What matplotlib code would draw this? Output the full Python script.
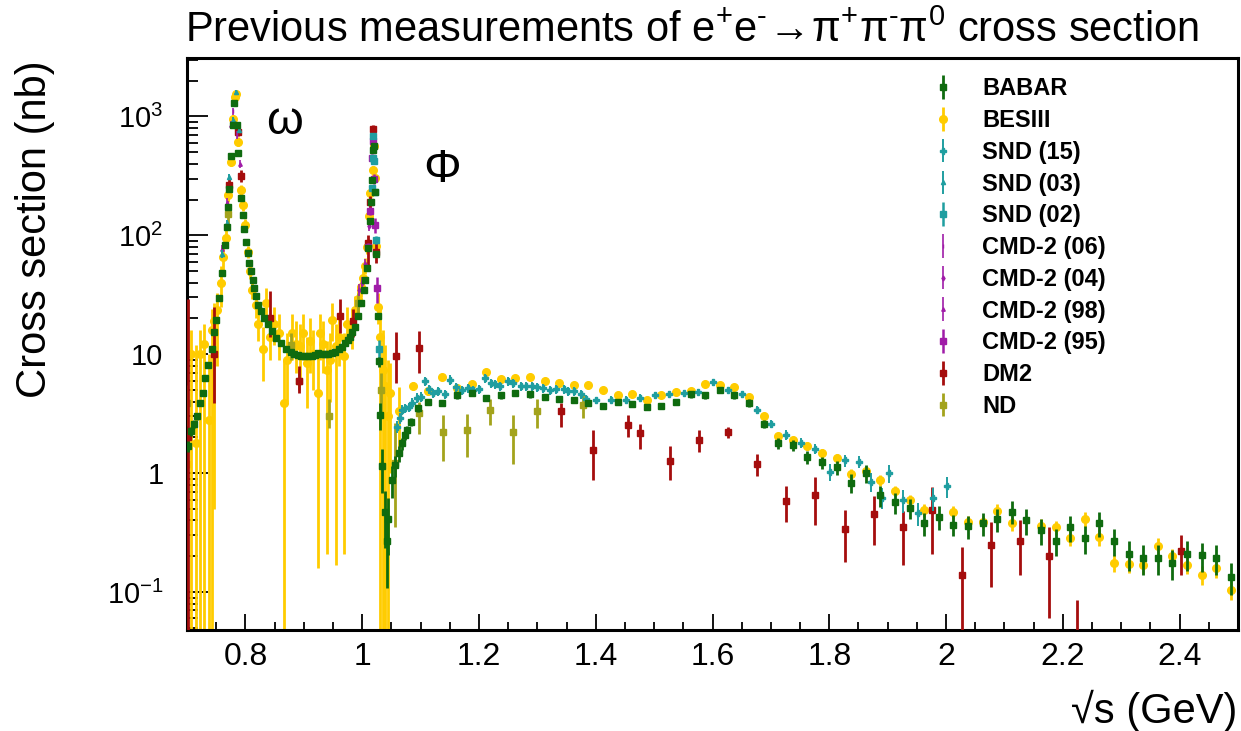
import numpy as np
import matplotlib
matplotlib.use('Agg')
import matplotlib.pyplot as plt
from matplotlib.ticker import FixedLocator, LogLocator, NullFormatter, MultipleLocator

plt.rcParams['font.family'] = ['Liberation Sans', 'DejaVu Sans']
plt.rcParams['mathtext.fontset'] = 'custom'
plt.rcParams['mathtext.rm'] = 'Liberation Sans'
plt.rcParams['mathtext.it'] = 'Liberation Sans:italic'
plt.rcParams['mathtext.bf'] = 'Liberation Sans:bold'

# ---------------- data ----------------
# BABAR, omega / phi region
babar_x1 = [0.7017, 0.7070, 0.7120, 0.7167, 0.7223, 0.7270, 0.7315, 0.7360, 0.7424, 0.7464,
            0.7500, 0.7555, 0.7607, 0.7650, 0.7690, 0.7705, 0.7720, 0.7750, 0.7780, 0.7810,
            0.7850, 0.7880, 0.7920, 0.7960, 0.7980, 0.8008, 0.8036, 0.8065, 0.8094, 0.8122,
            0.8150, 0.8185, 0.8220, 0.8266, 0.8320, 0.8380, 0.8450, 0.8520, 0.8610, 0.8695,
            0.8780, 0.8835, 0.8895, 0.8955, 0.9020, 0.9080, 0.9136, 0.9190, 0.9250, 0.9310,
            0.9366, 0.9420, 0.9480, 0.9540, 0.9595, 0.9650, 0.9710, 0.9755, 0.9795, 0.9830,
            0.9870, 0.9926, 0.9985, 1.0024, 1.0050, 1.0080, 1.0098, 1.0127, 1.0150, 1.0167,
            1.0180, 1.0195, 1.0212, 1.0236, 1.0264, 1.0280, 1.0310, 1.0340, 1.0385, 1.0425,
            1.0450, 1.0510, 1.0568, 1.0625, 1.0680, 1.0730, 1.0768, 1.0840, 1.0960]
babar_y1 = [1.68, 2.25, 2.6, 3.0, 3.9, 4.7, 6.3, 8.1, 11, 15.5,
            19.5, 29.5, 48, 83, 118, 172, 245, 465, 850, 1290,
            850, 490, 205, 147, 112, 88, 71, 59, 50, 42.5,
            36, 31, 26, 23, 20, 18, 15.6, 13.8, 12.4, 11,
            10.4, 10.0, 9.8, 9.6, 9.6, 9.6, 9.7, 9.9, 10.2, 10.1,
            10.0, 10.1, 10.2, 10.5, 11, 11.6, 12.4, 13.2, 14, 15.3,
            17, 21, 27, 35, 42, 53, 78, 131, 192, 293,
            520, 560, 230, 69, 21, 8.7, 3.1, 1.14, 0.47, 0.27,
            0.41, 0.88, 1.17, 1.47, 1.78, 2.1, 2.3, 2.7, 3.5]
babar_r1 = [0.10, 0.08, 0.08, 0.07, 0.06, 0.06, 0.05, 0.05, 0.05, 0.05,
            0.05, 0.04, 0.04, 0.04, 0.04, 0.04, 0.04, 0.04, 0.04, 0.04,
            0.04, 0.04, 0.04, 0.04, 0.04, 0.04, 0.04, 0.04, 0.04, 0.04,
            0.04, 0.04, 0.04, 0.04, 0.04, 0.04, 0.04, 0.04, 0.04, 0.04,
            0.04, 0.04, 0.04, 0.04, 0.04, 0.04, 0.04, 0.04, 0.04, 0.04,
            0.04, 0.04, 0.04, 0.04, 0.04, 0.04, 0.04, 0.04, 0.04, 0.04,
            0.04, 0.04, 0.04, 0.04, 0.04, 0.04, 0.04, 0.04, 0.04, 0.04,
            0.04, 0.04, 0.05, 0.05, 0.06, 0.10, 0.25, 0.40, 0.50, 0.60,
            0.50, 0.30, 0.20, 0.15, 0.12, 0.10, 0.08, 0.07, 0.06]

# BABAR, above the phi
babar_x2 = [1.1125, 1.1375, 1.1625, 1.1875, 1.2125, 1.2375, 1.2625, 1.2875, 1.3125, 1.3375,
            1.3625, 1.3875, 1.4125, 1.4375, 1.4625, 1.4875, 1.5125, 1.5375, 1.5625, 1.5875,
            1.6125, 1.6375, 1.6625, 1.6875, 1.7125, 1.7375, 1.7625, 1.7875, 1.8125, 1.8375,
            1.8625, 1.8875, 1.9125, 1.9375, 1.9625, 1.9875, 2.0125, 2.0375, 2.0625, 2.0875,
            2.1125, 2.1375, 2.1625, 2.1875, 2.2125, 2.2375, 2.2625, 2.2875, 2.3125, 2.3375,
            2.3625, 2.3875, 2.4125, 2.4375, 2.4625, 2.4875]
babar_y2 = [4.0, 3.9, 4.5, 4.7, 4.3, 4.5, 4.7, 4.6, 4.4, 4.2,
            4.1, 3.9, 3.7, 4.0, 3.8, 3.6, 3.7, 4.0, 4.6, 4.5,
            5.0, 4.5, 3.9, 2.6, 1.78, 1.72, 1.36, 1.23, 1.12, 0.83,
            1.0, 0.65, 0.57, 0.51, 0.38, 0.43, 0.37, 0.36, 0.38, 0.41,
            0.475, 0.40, 0.33, 0.27, 0.35, 0.285, 0.38, 0.27, 0.21, 0.195,
            0.195, 0.176, 0.21, 0.204, 0.195, 0.134]
babar_r2 = [0.06, 0.06, 0.06, 0.06, 0.06, 0.06, 0.06, 0.06, 0.06, 0.06,
            0.06, 0.06, 0.06, 0.06, 0.06, 0.06, 0.06, 0.06, 0.06, 0.06,
            0.06, 0.06, 0.07, 0.08, 0.10, 0.10, 0.12, 0.12, 0.14, 0.18,
            0.18, 0.20, 0.20, 0.20, 0.22, 0.22, 0.20, 0.22, 0.22, 0.22,
            0.22, 0.24, 0.24, 0.26, 0.24, 0.26, 0.24, 0.26, 0.28, 0.28,
            0.28, 0.28, 0.28, 0.28, 0.28, 0.30]

# BESIII, omega / phi region (value, lower and upper end of the bar)
bes_x1 = [0.7005, 0.7070, 0.7150, 0.7220, 0.7290, 0.7380, 0.7420, 0.7460, 0.7520, 0.7580,
          0.7620, 0.7665, 0.7705, 0.7750, 0.7790, 0.7815, 0.7838, 0.7870, 0.7930, 0.7960,
          0.8000, 0.8050, 0.8080, 0.8120, 0.8180, 0.8210, 0.8295, 0.8350, 0.8426, 0.8490,
          0.8580, 0.8667, 0.8720, 0.8790, 0.8867, 0.8937, 0.8993, 0.9050, 0.9110, 0.9165,
          0.9236, 0.9280, 0.9337, 0.9395, 0.9450, 0.9490, 0.9550, 0.9606, 0.9680, 0.9737,
          0.9820, 0.9880, 0.9925, 0.9985, 1.0020, 1.0050, 1.0080, 1.0110, 1.0140, 1.0180,
          1.0196, 1.0225, 1.0235, 1.0270, 1.0300, 1.0350, 1.0397, 1.0440, 1.0483, 1.0625]
bes_y1 = [1.2, 10, 1.8, 10, 12.3, 2.8, 16, 19, 23.5, 40,
          66, 95, 218, 416, 950, 1450, 1550, 615, 240, 180,
          123, 73, 50, 35, 26, 18, 11, 27, 14, 18,
          15, 3.9, 9, 15, 12.3, 11.7, 15, 8.5, 13, 10,
          4.7, 15, 12.3, 7.4, 9, 19.5, 11.7, 14, 9.6, 18,
          17, 23.5, 29, 37, 44, 55, 80, 144, 225, 355,
          560, 302, 81, 25, 14, 7.4, 5.4, 3.0, 4.7, 3.3]
bes_lo1 = [0.001, 0.001, 0.001, 0.001, 0.001, 0.001, 0.001, 0.5, 8, 25,
           50, 80, 190, 380, 870, 1350, 1450, 560, 215, 160,
           110, 64, 43, 29, 20, 13, 6, 19, 9, 12,
           9, 0.001, 4, 9, 7, 6, 9, 3.5, 7, 5,
           0.16, 9, 7, 0.21, 4, 13, 0.17, 8, 0.21, 12,
           11, 17, 22, 30, 37, 47, 70, 130, 205, 330,
           520, 280, 70, 18, 0.001, 0.001, 0.001, 0.001, 1.0, 1.6]
bes_hi1 = [10, 16, 12, 16, 18, 10, 24, 27, 33, 55,
           82, 112, 250, 455, 1030, 1550, 1650, 670, 265, 200,
           136, 82, 57, 41, 33, 24, 17, 36, 20, 25,
           22, 9, 15, 22, 19, 18, 22, 14, 20, 16,
           10, 22, 19, 13, 15, 27, 18, 21, 15, 25,
           24, 31, 37, 45, 52, 64, 91, 160, 245, 380,
           600, 325, 93, 33, 24, 16, 12, 9, 8.5, 5.3]

# BESIII, above the phi
bes_x2 = [1.0875, 1.1125, 1.1375, 1.1625, 1.1875, 1.2125, 1.2375, 1.2625, 1.2875, 1.3125,
          1.3375, 1.3625, 1.3875, 1.4125, 1.4375, 1.4625, 1.4875, 1.5125, 1.5375, 1.5625,
          1.5875, 1.6125, 1.6375, 1.6625, 1.6875, 1.7125, 1.7375, 1.7625, 1.7875, 1.8125,
          1.8375, 1.8625, 1.8875, 1.9125, 1.9375, 1.9625, 2.0125, 2.0375, 2.0625, 2.0875,
          2.1125, 2.1625, 2.1875, 2.2125, 2.2375, 2.2625, 2.2875, 2.3125, 2.3375, 2.3625,
          2.3875, 2.4125, 2.4375, 2.4625, 2.4875]
bes_y2 = [5.4, 4.9, 6.4, 5.2, 5.6, 7.1, 6.2, 6.3, 6.4, 6.0,
          5.7, 5.5, 5.5, 5.0, 4.5, 4.6, 4.1, 4.5, 4.8, 4.9,
          5.6, 5.5, 5.3, 4.4, 3.0, 2.05, 1.9, 1.7, 1.47, 1.35,
          0.98, 1.05, 0.87, 0.71, 0.59, 0.49, 0.47, 0.39, 0.39, 0.485,
          0.38, 0.36, 0.35, 0.285, 0.41, 0.29, 0.176, 0.172, 0.168, 0.245,
          0.20, 0.17, 0.14, 0.16, 0.105]
bes_r2 = [0.08, 0.07, 0.06, 0.06, 0.06, 0.05, 0.05, 0.05, 0.05, 0.05,
          0.05, 0.05, 0.05, 0.05, 0.05, 0.05, 0.05, 0.05, 0.05, 0.05,
          0.05, 0.05, 0.05, 0.05, 0.06, 0.07, 0.07, 0.08, 0.08, 0.08,
          0.10, 0.10, 0.10, 0.10, 0.12, 0.12, 0.12, 0.12, 0.12, 0.14,
          0.14, 0.14, 0.14, 0.14, 0.14, 0.16, 0.16, 0.16, 0.16, 0.16,
          0.16, 0.16, 0.18, 0.18, 0.18]

# SND (15), 1.05 - 2.0 GeV
snd15_x = [1.0597, 1.0640, 1.0680, 1.0740, 1.0800, 1.0860, 1.0940, 1.1010, 1.1080, 1.1150,
           1.1220, 1.1300, 1.1416, 1.1496, 1.1600, 1.1710, 1.1810, 1.1900, 1.2000, 1.2100,
           1.2200, 1.2280, 1.2360, 1.2500, 1.2580, 1.2720, 1.2810, 1.2900, 1.3000, 1.3100,
           1.3220, 1.3320, 1.3450, 1.3530, 1.3620, 1.3750, 1.3830, 1.4007, 1.4265, 1.4520,
           1.4760, 1.5010, 1.5260, 1.5520, 1.5750, 1.6010, 1.6260, 1.6510, 1.6760, 1.7010,
           1.7260, 1.7510, 1.7760, 1.8010, 1.8265, 1.8510, 1.8720, 1.8900, 1.9020, 1.9270,
           1.9520, 1.9770, 2.0017]
snd15_y = [2.45, 2.9, 3.4, 3.5, 3.6, 3.9, 4.3, 4.4, 5.9, 5.1,
           4.7, 4.9, 4.6, 6.1, 5.3, 5.0, 5.2, 5.0, 5.1, 6.3,
           5.7, 5.6, 5.4, 5.9, 5.7, 5.4, 5.4, 5.4, 5.3, 5.2,
           5.0, 5.1, 5.1, 4.9, 4.9, 4.6, 4.2, 4.1, 4.15, 4.15,
           4.3, 4.5, 4.6, 4.7, 4.8, 5.8, 5.0, 4.6, 3.4, 2.6,
           2.1, 1.8, 1.6, 1.02, 1.28, 1.25, 0.85, 0.62, 1.0, 0.59,
           0.46, 0.62, 0.78]
snd15_r = [0.12, 0.10, 0.10, 0.09, 0.09, 0.09, 0.09, 0.09, 0.09, 0.09,
           0.09, 0.09, 0.09, 0.09, 0.09, 0.09, 0.09, 0.09, 0.09, 0.09,
           0.09, 0.09, 0.09, 0.09, 0.09, 0.09, 0.09, 0.09, 0.09, 0.09,
           0.09, 0.09, 0.09, 0.09, 0.09, 0.09, 0.09, 0.07, 0.07, 0.07,
           0.07, 0.07, 0.07, 0.07, 0.07, 0.07, 0.07, 0.07, 0.08, 0.08,
           0.09, 0.10, 0.10, 0.16, 0.12, 0.12, 0.18, 0.20, 0.18, 0.22,
           0.22, 0.22, 0.20]

# SND (03), omega peak
snd03_x = [0.7607, 0.7680, 0.7717, 0.7780, 0.7837, 0.7893]
snd03_y = [70, 126, 310, 935, 1600, 770]
snd03_r = [0.08, 0.07, 0.06, 0.05, 0.05, 0.06]

# SND (02), phi peak
snd02_x = [1.0165, 1.0180, 1.0192, 1.0205, 1.0215, 1.0236, 1.0280]
snd02_y = [250, 450, 680, 420, 230, 91, 11]
snd02_r = [0.06, 0.06, 0.05, 0.06, 0.06, 0.08, 0.20]

# CMD-2
cmd06_x = [0.7705, 0.7795, 0.7860]
cmd06_y = [180, 1100, 700]
cmd06_r = [0.08, 0.06, 0.07]
cmd04_x = [0.9950, 1.0000, 1.0050, 1.0110]
cmd04_y = [35, 40, 57, 120]
cmd04_r = [0.12, 0.12, 0.10, 0.10]
cmd98_x = [0.7607, 0.7680, 0.7750, 0.7900]
cmd98_y = [76, 186, 850, 400]
cmd98_r = [0.10, 0.10, 0.08, 0.08]
cmd95_x = [1.0098, 1.0134, 1.0165, 1.0185, 1.0205, 1.0225, 1.0254]
cmd95_y = [80, 160, 445, 620, 300, 122, 36]
cmd95_r = [0.08, 0.08, 0.08, 0.08, 0.10, 0.15, 0.25]

# DM2 (value, lower and upper end of the bar)
dm2_x = [0.7015, 0.7457, 0.7720, 0.7880, 0.7920, 0.8420, 0.8910, 0.9625, 0.9850, 1.0098,
         1.0134, 1.0180, 1.0236, 1.0580, 1.0980, 1.3400, 1.3960, 1.4550, 1.4760, 1.5265,
         1.5760, 1.6260, 1.6760, 1.7260, 1.7760, 1.8265, 1.8770, 1.9270, 1.9760, 2.0280,
         2.0770, 2.1270, 2.1770, 2.2250, 2.4025]
dm2_y = [2.0, 10, 265, 745, 316, 20, 6, 20.8, 19, 86,
         190, 790, 73, 9.7, 11.2, 3.3, 1.58, 2.55, 2.17, 1.26,
         1.9, 2.2, 1.2, 0.585, 0.65, 0.34, 0.45, 0.35, 0.49, 0.14,
         0.25, 0.27, 0.20, 0.03, 0.22]
dm2_lo = [0.001, 3.9, 235, 680, 280, 14, 4.7, 15, 14, 56,
          165, 745, 59, 5.7, 6.9, 2.45, 0.87, 2.0, 1.6, 0.87,
          1.5, 1.96, 0.95, 0.39, 0.37, 0.18, 0.25, 0.17, 0.21, 0.001,
          0.11, 0.14, 0.06, 0.001, 0.14]
dm2_hi = [29, 25, 300, 820, 355, 34, 8, 29, 24, 100,
          215, 850, 87, 15.5, 15.7, 3.9, 2.3, 3.1, 2.6, 1.7,
          2.3, 2.45, 1.45, 0.78, 0.92, 0.49, 0.64, 0.48, 0.76, 0.24,
          0.39, 0.40, 0.35, 0.086, 0.30]

# ND (value, lower and upper end of the bar)
nd_x = [0.7005, 0.7700, 0.8780, 0.8920, 0.9440, 0.9926, 1.0328, 1.0557, 1.0970, 1.1387,
        1.1790, 1.2190, 1.2585, 1.2990, 1.3790]
nd_y = [3.9, 150, 12, 6, 3.0, 27, 5.0, 1.22, 3.2, 2.2,
        2.3, 3.4, 2.2, 3.3, 3.76]
nd_lo = [2.5, 120, 9, 5, 2.4, 22, 3.0, 0.35, 2.15, 1.26,
         1.37, 2.55, 1.2, 2.4, 2.9]
nd_hi = [5.5, 185, 15, 7.5, 4.2, 33, 7.0, 2.65, 4.0, 3.1,
         3.15, 4.2, 3.1, 4.2, 4.6]

# colours
c_babar = '#0f6b0f'
c_bes = '#ffcc00'
c_snd = '#1f9ea0'
c_cmd = '#a01ca8'
c_dm2 = '#a50d0d'
c_nd = '#a3a31c'

fig = plt.figure(figsize=(12.41, 7.31), dpi=100)
ax = fig.add_axes([0.1507, 0.1382, 0.8469, 0.7825])


def draw(x, y, lo, hi, color, marker, ms, lw, z, label=None):
    x = np.asarray(x, float)
    y = np.asarray(y, float)
    yerr = [y - np.asarray(lo, float), np.asarray(hi, float) - y]
    return ax.errorbar(x, y, yerr=yerr, fmt=marker, color=color, mfc=color, mec=color,
                       ms=ms, elinewidth=lw, capsize=0, zorder=z, label=label)


def draw_rel(x, y, r, color, marker, ms, lw, z, label=None):
    y = np.asarray(y, float)
    r = np.asarray(r, float)
    return draw(x, y, y * (1 - r), y * (1 + r), color, marker, ms, lw, z, label)


h_bes = draw(bes_x1, bes_y1, bes_lo1, bes_hi1, c_bes, 'o', 5.5, 2.0, 2)
draw_rel(bes_x2, bes_y2, bes_r2, c_bes, 'o', 5.5, 2.0, 2)
h_nd = draw(nd_x, nd_y, nd_lo, nd_hi, c_nd, 's', 4.5, 2.0, 3)
h_dm2 = draw(dm2_x, dm2_y, dm2_lo, dm2_hi, c_dm2, 's', 4.5, 2.0, 4)
h_c06 = draw_rel(cmd06_x, cmd06_y, cmd06_r, c_cmd, '|', 3, 1.2, 5)
h_c04 = draw_rel(cmd04_x, cmd04_y, cmd04_r, c_cmd, 'd', 2.5, 1.2, 5)
h_c98 = draw_rel(cmd98_x, cmd98_y, cmd98_r, c_cmd, '^', 2.5, 1.2, 5)
h_c95 = draw_rel(cmd95_x, cmd95_y, cmd95_r, c_cmd, 's', 4, 1.8, 5)
h_s15 = draw_rel(snd15_x, snd15_y, snd15_r, c_snd, 'P', 3.8, 1.4, 6)
h_s03 = draw_rel(snd03_x, snd03_y, snd03_r, c_snd, '^', 3, 1.4, 6)
h_s02 = draw_rel(snd02_x, snd02_y, snd02_r, c_snd, 's', 4.5, 1.8, 6)
h_bb = draw_rel(babar_x1, babar_y1, babar_r1, c_babar, 's', 5, 2.0, 7)
draw_rel(babar_x2, babar_y2, babar_r2, c_babar, 's', 5, 2.0, 7)

# axes
ax.set_yscale('log', nonpositive='clip')
ax.set_xlim(0.7, 2.5)
ax.set_ylim(0.048, 3100)
ax.xaxis.set_minor_locator(MultipleLocator(0.05))
ax.set_xticks([0.8, 1.0, 1.2, 1.4, 1.6, 1.8, 2.0, 2.2, 2.4])
ax.set_xticklabels(['0.8', '1', '1.2', '1.4', '1.6', '1.8', '2', '2.2', '2.4'])
ax.yaxis.set_major_locator(FixedLocator([0.1, 1, 10, 100, 1000]))
ax.set_yticklabels([r'$10^{\text{−}1}$', '1', '10', r'$10^{2}$', r'$10^{3}$'])
ax.yaxis.set_minor_locator(LogLocator(base=10, subs=range(2, 10)))
ax.yaxis.set_minor_formatter(NullFormatter())
ax.tick_params(axis='x', which='major', direction='in', length=11.5, width=1.3,
               labelsize=23, pad=9, top=False)
ax.tick_params(axis='x', which='minor', direction='in', length=6, width=1.3, top=False)
ax.tick_params(axis='y', which='major', direction='in', length=15, width=1.3,
               labelsize=21, pad=17, right=False)
ax.tick_params(axis='y', which='minor', direction='in', length=8, width=1.3, right=False)
for s in ax.spines.values():
    s.set_linewidth(2.2)

# annotations
ax.text(0.8667, 900, 'ω', fontsize=34, ha='center', va='center')
ax.text(1.1364, 355, 'Φ', fontsize=34, ha='center', va='center')

# labels and title
title = (r'Previous measurements of e$^{+}$e$^{\text{-}}\!\rightarrow\!$'
         r'π$^{+}$π$^{\text{-}}$π$^{0}$ cross section')
fig.text(0.149, 1 - 42 / 731, title, fontsize=30, ha='left', va='baseline')
fig.text(0.0282, 1 - 229 / 731, 'Cross section (nb)', fontsize=30, rotation=90,
         ha='center', va='center')
fig.text(0.9968, 1 - 723 / 731, '√s (GeV)', fontsize=30, ha='right', va='baseline')

# legend
handles = [h_bb, h_bes, h_s15, h_s03, h_s02, h_c06, h_c04, h_c98, h_c95, h_dm2, h_nd]
labels = ['BABAR', 'BESIII', 'SND (15)', 'SND (03)', 'SND (02)', 'CMD-2 (06)',
          'CMD-2 (04)', 'CMD-2 (98)', 'CMD-2 (95)', 'DM2', 'ND']
ax.legend(handles, labels, loc='upper left', bbox_to_anchor=(0.708, 0.966),
          frameon=False, prop={'family': 'Liberation Sans', 'weight': 'bold', 'size': 17},
          handlelength=1.0, handletextpad=1.15, labelspacing=0.37, borderpad=0,
          borderaxespad=0)

fig.savefig('out.png', dpi=100)
